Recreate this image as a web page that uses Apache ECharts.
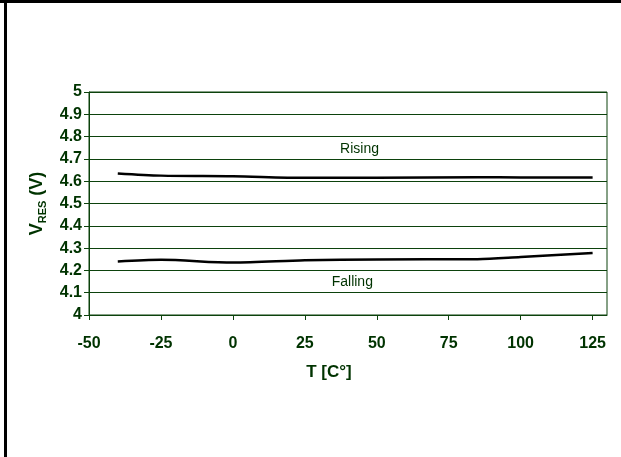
<!DOCTYPE html>
<html>
<head>
<meta charset="utf-8">
<style>
html,body{margin:0;padding:0;background:#fff;}
#c{width:621px;height:457px;}
</style>
<script src="https://cdn.jsdelivr.net/npm/echarts@6/dist/echarts.min.js"></script>
</head>
<body>
<div id="c"></div>
<script>
// Data
const temps = [-40, -25, 0, 25, 50, 85, 100, 125];
const rising = [4.635, 4.625, 4.622, 4.615, 4.615, 4.618, 4.617, 4.617];
const falling = [4.240, 4.248, 4.235, 4.245, 4.249, 4.250, 4.260, 4.278];
const xTicks = [-50, -25, 0, 25, 50, 75, 100, 125];

const green = '#003300';
const lineGreen = '#0c420c';
const font = 'Liberation Sans, Arial, sans-serif';

const chart = echarts.init(document.getElementById('c'), null, {renderer: 'canvas'});
chart.setOption({
  animation: false,
  backgroundColor: '#fff',
  grid: {left: 89, right: 14, top: 92, bottom: 142, show: true, borderColor: lineGreen, borderWidth: 1},
  xAxis: {
    type: 'value', min: -50, max: 130, interval: 25,
    name: 'T [C°]', nameLocation: 'middle', nameGap: 49,
    nameTextStyle: {color: green, fontFamily: font, fontWeight: 'bold', fontSize: 17, padding: [0, 38, 0, 0]},
    axisLine: {show: true, onZero: false, lineStyle: {color: lineGreen, width: 1}},
    axisTick: {show: true, length: 5, customValues: xTicks, lineStyle: {color: lineGreen}},
    axisLabel: {customValues: xTicks, color: green, fontFamily: font, fontWeight: 'bold', fontSize: 16, margin: 21},
    splitLine: {show: false}
  },
  yAxis: {
    type: 'value', min: 4, max: 5, interval: 0.1,
    name: '{v|V}{s|RES}{v| (V)}', nameLocation: 'middle', nameGap: 43,
    nameTextStyle: {
      color: green, fontFamily: font, fontWeight: 'bold',
      rich: {
        v: {color: green, fontFamily: font, fontWeight: 'bold', fontSize: 18, verticalAlign: 'bottom'},
        s: {color: green, fontFamily: font, fontWeight: 'bold', fontSize: 11, verticalAlign: 'bottom', padding: [0, 0, -2, 0]}
      }
    },
    axisLine: {show: true, onZero: false, lineStyle: {color: lineGreen, width: 1}},
    axisTick: {show: true, length: 5, lineStyle: {color: lineGreen}},
    axisLabel: {color: green, fontFamily: font, fontWeight: 'bold', fontSize: 16, margin: 7,
      formatter: v => String(Math.round(v * 10) / 10)},
    splitLine: {show: true, lineStyle: {color: lineGreen, width: 1}}
  },
  series: [
    {
      name: 'Rising', type: 'line', smooth: 0.3, symbol: 'none',
      data: temps.map((t, i) => [t, rising[i]]),
      lineStyle: {color: '#000', width: 2.5},
      markPoint: {
        symbol: 'circle', symbolSize: 0,
        label: {show: true, position: 'inside', formatter: 'Rising', color: green, fontFamily: font, fontSize: 14},
        data: [{coord: [44, 4.745]}]
      }
    },
    {
      name: 'Falling', type: 'line', smooth: 0.3, symbol: 'none',
      data: temps.map((t, i) => [t, falling[i]]),
      lineStyle: {color: '#000', width: 2.5},
      markPoint: {
        symbol: 'circle', symbolSize: 0,
        label: {show: true, position: 'inside', formatter: 'Falling', color: green, fontFamily: font, fontSize: 14},
        data: [{coord: [41.5, 4.148]}]
      }
    }
  ],
  graphic: [
    {type: 'line', shape: {x1: 0, y1: 1.5, x2: 621, y2: 1.5}, style: {stroke: '#000', lineWidth: 3}},
    {type: 'line', shape: {x1: 5.5, y1: 0, x2: 5.5, y2: 457}, style: {stroke: '#000', lineWidth: 3}}
  ]
});
</script>
</body>
</html>
